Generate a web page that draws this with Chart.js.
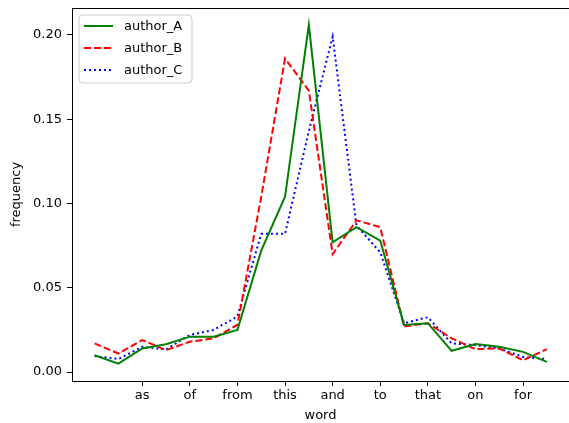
<!DOCTYPE html>
<html>
<head>
<meta charset="utf-8">
<script src="https://cdn.jsdelivr.net/npm/chart.js@4.4.0/dist/chart.umd.min.js"></script>
<style>
  html, body { margin: 0; padding: 0; background: #fff; overflow: hidden; }
  #wrap { width: 569px; height: 423px; }
</style>
</head>
<body>
<div id="wrap"><canvas id="word_freq_chart"></canvas></div>
<script>
// word positions 0..19, only every other one is labelled on the axis
var tickPositions = [2, 4, 6, 8, 10, 12, 14, 16, 18];
var tickWords = ["as", "of", "from", "this", "and", "to", "that", "on", "for"];
var yTickValues = [0.00, 0.05, 0.10, 0.15, 0.20];

var authorA = [0.010, 0.005, 0.014, 0.0165, 0.021, 0.021, 0.025, 0.072, 0.104, 0.206,
               0.077, 0.086, 0.078, 0.028, 0.029, 0.0126, 0.0166, 0.015, 0.012, 0.006];
var authorB = [0.017, 0.011, 0.019, 0.013, 0.018, 0.020, 0.028, 0.104, 0.186, 0.167,
               0.070, 0.090, 0.086, 0.027, 0.029, 0.020, 0.0136, 0.014, 0.007, 0.0136];
var authorC = [0.0095, 0.0077, 0.015, 0.0134, 0.022, 0.025, 0.033, 0.082, 0.082, 0.143,
               0.199, 0.087, 0.071, 0.029, 0.0325, 0.017, 0.016, 0.014, 0.009, 0.0077];

function toPoints(list) {
    return list.map(function (v, i) { return { x: i, y: v }; });
}

var font = { family: "'DejaVu Sans', sans-serif", size: 13 };

// matplotlib style frame (right spine falls just outside the crop) + legend box
var framePlugin = {
    id: "frame",
    afterDraw: function (chart) {
        var ctx = chart.ctx, a = chart.chartArea;
        var t = Math.round(a.top) + 0.5, l = Math.round(a.left) + 0.5;
        ctx.save();
        ctx.strokeStyle = "#000";
        ctx.lineWidth = 1;
        ctx.beginPath();
        ctx.moveTo(l, t);
        ctx.lineTo(chart.width, t);
        ctx.stroke();

        // legend
        var x = a.left + 7, y = a.top + 7, w = 113, h = 68, r = 4;
        ctx.beginPath();
        ctx.moveTo(x + r, y);
        ctx.arcTo(x + w, y, x + w, y + h, r);
        ctx.arcTo(x + w, y + h, x, y + h, r);
        ctx.arcTo(x, y + h, x, y, r);
        ctx.arcTo(x, y, x + w, y, r);
        ctx.closePath();
        ctx.fillStyle = "rgba(255,255,255,0.8)";
        ctx.fill();
        ctx.strokeStyle = "#cccccc";
        ctx.stroke();

        ctx.font = font.size + "px " + font.family;
        ctx.textBaseline = "middle";
        chart.data.datasets.forEach(function (ds, i) {
            var ly = y + 11 + i * 22;
            ctx.beginPath();
            ctx.setLineDash(ds.borderDash || []);
            ctx.strokeStyle = ds.borderColor;
            ctx.lineWidth = ds.borderWidth;
            ctx.moveTo(x + 5, ly);
            ctx.lineTo(x + 34, ly);
            ctx.stroke();
            ctx.setLineDash([]);
            ctx.fillStyle = "#000";
            ctx.fillText(ds.label, x + 45, ly + 1);
        });
        ctx.restore();
    }
};

var ctx = document.getElementById("word_freq_chart");
var myChart = new Chart(ctx, {
    type: "line",
    data: {
        datasets: [{
            label: "author_A",
            data: toPoints(authorA),
            borderColor: "#008000",
            borderWidth: 2,
            pointRadius: 0,
            tension: 0,
            fill: false
        }, {
            label: "author_B",
            data: toPoints(authorB),
            borderColor: "#ff0000",
            borderWidth: 2,
            borderDash: [7, 3],
            pointRadius: 0,
            tension: 0,
            fill: false
        }, {
            label: "author_C",
            data: toPoints(authorC),
            borderColor: "#0000ff",
            borderWidth: 2,
            borderDash: [2, 3],
            pointRadius: 0,
            tension: 0,
            fill: false
        }]
    },
    options: {
        responsive: true,
        maintainAspectRatio: false,
        animation: false,
        layout: { padding: { top: 8, right: 0, left: 0, bottom: 0 } },
        plugins: {
            legend: { display: false },
            tooltip: { enabled: false }
        },
        scales: {
            x: {
                type: "linear",
                min: -0.95,
                max: 19.93,
                afterBuildTicks: function (scale) {
                    scale.ticks = tickPositions.map(function (p) { return { value: p }; });
                },
                afterFit: function (scale) {
                    scale.height = 42;
                    scale.paddingLeft = 0;
                    scale.paddingRight = 0;
                },
                ticks: {
                    color: "#000",
                    font: font,
                    padding: 2,
                    maxRotation: 0,
                    autoSkip: false,
                    callback: function (value) {
                        var k = tickPositions.indexOf(value);
                        return k >= 0 ? tickWords[k] : "";
                    }
                },
                grid: { drawOnChartArea: false, tickLength: 5, tickColor: "#000" },
                border: { color: "#000" },
                title: { display: true, text: "word", color: "#000", font: font, padding: { top: 0, bottom: 0 } }
            },
            y: {
                min: -0.0053,
                max: 0.216,
                afterBuildTicks: function (scale) {
                    scale.ticks = yTickValues.map(function (v) { return { value: v }; });
                },
                afterFit: function (scale) {
                    scale.width = 72;
                    scale.paddingTop = 0;
                    scale.paddingBottom = 0;
                },
                ticks: {
                    color: "#000",
                    font: font,
                    padding: 5,
                    callback: function (value) { return value.toFixed(2); }
                },
                grid: { drawOnChartArea: false, tickLength: 5, tickColor: "#000" },
                border: { color: "#000" },
                title: { display: true, text: "frequency", color: "#000", font: font, padding: { top: 9, bottom: 0 } }
            }
        }
    },
    plugins: [framePlugin]
});
</script>
</body>
</html>
